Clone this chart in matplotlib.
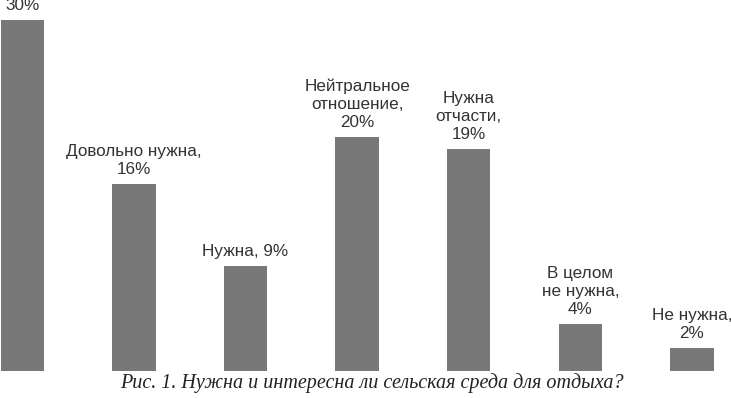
import matplotlib.pyplot as plt
import numpy as np

labels = ["30%", "Довольно нужна,\n16%", "Нужна, 9%", "Нейтральное\nотношение,\n20%",
          "Нужна\nотчасти,\n19%", "В целом\nне нужна,\n4%", "Не нужна,\n2%"]
values = [30, 16, 9, 20, 19, 4, 2]
caption = "Рис. 1. Нужна и интересна ли сельская среда для отдыха?"

fig = plt.figure(figsize=(7.31, 3.98), dpi=100)
ax = fig.add_axes([0, 0.068, 1, 0.932])
x = np.arange(len(values))
bars = ax.bar(x, values, width=0.39, color="#787878")
ax.set_xlim(-0.2, 6.35)
ax.set_ylim(0, 31.7)
ax.axis("off")

# the top label is cut off by the upper edge, as in the source image
for b, lab in zip(bars, labels):
    ax.annotate(lab, (b.get_x() + b.get_width() / 2, b.get_height()),
                xytext=(0, 5), textcoords="offset points", ha="center", va="bottom",
                fontsize=12.3, family="Liberation Sans", color="#333333",
                linespacing=1.25, annotation_clip=False)

fig.text(0.509, 0.038, caption, ha="center", va="center", fontsize=14.5,
         family="Liberation Serif", style="italic", color="#222222")

fig.savefig("out.png", dpi=100)
